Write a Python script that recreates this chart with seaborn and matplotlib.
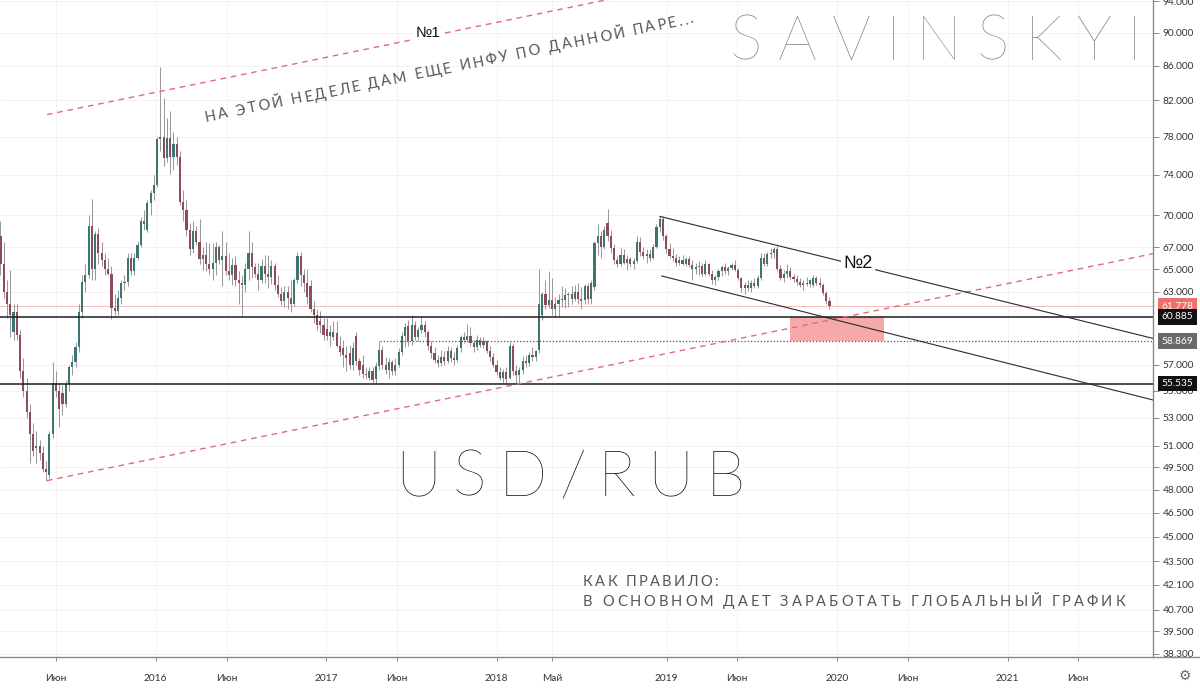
#!/usr/bin/env python3

import matplotlib

matplotlib.use("Agg")
import matplotlib.dates as mdates
import matplotlib.pyplot as plt
import numpy as np
import pandas as pd
import seaborn as sns
from matplotlib.font_manager import FontProperties
from matplotlib.textpath import TextToPath
from matplotlib.ticker import FixedLocator, FuncFormatter, NullFormatter, NullLocator

# weekly USD/RUB candles, first bar = week of 2015-02-02
first_week = "2015-02-02"
opens = [
    # 2015
    68.0, 65.5, 63.0, 62.0, 59.6, 61.3, 59.4, 56.5, 55.0, 53.4, 51.8, 50.8, 51.0, 50.5, 49.4, 49.0,
    51.8, 55.6, 55.0, 54.8, 54.0, 55.5, 56.8, 57.2, 58.4, 61.3, 63.9, 64.5, 69.0, 65.0, 68.2, 66.5,
    65.8, 65.0, 64.6, 61.6, 61.4, 62.5, 63.8, 63.9, 66.0, 64.8, 66.0, 67.2, 69.5, 68.6, 71.2, 72.2,
    # 2016
    73.0, 77.7, 78.0, 75.7, 77.9, 75.8, 77.2, 75.8, 71.3, 70.5, 68.6, 66.8, 68.5, 67.5, 65.9, 66.3,
    65.5, 65.0, 65.6, 67.0, 65.8, 66.2, 64.8, 64.5, 65.4, 64.0, 63.8, 63.6, 65.0, 66.5, 65.2, 64.6,
    64.0, 65.3, 64.6, 64.3, 65.3, 63.6, 62.8, 62.2, 63.0, 62.5, 62.0, 64.0, 66.2, 64.5, 63.8, 63.5,
    61.5, 61.0, 60.5, 60.2,
    # 2017
    59.9, 59.3, 59.6, 59.5, 58.5, 58.3, 57.8, 57.9, 57.0, 59.3, 57.3, 57.0, 56.3, 56.0, 56.5, 55.9,
    56.9, 58.2, 57.0, 56.6, 57.2, 56.5, 57.0, 58.0, 59.3, 60.1, 58.9, 60.2, 59.2, 59.8, 60.2, 59.6,
    58.5, 57.9, 57.4, 57.1, 57.6, 57.3, 58.1, 57.5, 57.4, 58.3, 59.2, 59.0, 59.3, 58.7, 58.4, 59.0,
    58.6, 58.9, 58.1, 57.6,
    # 2018
    57.0, 56.4, 56.0, 56.4, 56.0, 58.5, 56.5, 56.2, 56.6, 57.3, 57.1, 57.8, 57.6, 58.2, 61.0, 62.8,
    61.9, 62.3, 61.5, 62.0, 62.3, 62.3, 62.7, 62.8, 62.4, 63.0, 62.4, 62.3, 63.5, 62.4, 63.4, 67.4,
    68.0, 67.0, 69.3, 68.0, 66.9, 65.8, 65.5, 66.3, 65.6, 65.9, 65.5, 65.7, 67.5, 66.6, 66.2, 66.4,
    66.0, 67.0, 68.9, 69.6, 68.0,
    # 2019
    66.8, 66.2, 66.0, 65.6, 65.8, 65.5, 65.9, 65.4, 65.0, 65.2, 65.3, 64.6, 65.5, 64.6, 64.0, 64.3,
    64.8, 65.2, 64.8, 65.1, 65.4, 64.9, 64.2, 63.3, 63.6, 63.3, 63.8, 63.5, 64.2, 66.0, 65.5, 66.4,
    66.5, 66.8, 65.0, 64.2, 64.6, 64.8, 64.3, 64.1, 63.9, 63.6, 63.8, 63.7, 63.6, 64.2, 63.8, 63.6,
    62.9, 62.2,
]
highs = [
    # 2015
    69.5, 67.5, 64.0, 64.9, 62.0, 62.0, 59.8, 57.5, 56.0, 54.0, 52.6, 52.0, 51.4, 51.0, 49.9, 52.0,
    57.2, 56.5, 55.6, 55.4, 55.8, 57.0, 57.8, 58.8, 62.0, 64.5, 65.5, 70.0, 71.6, 68.5, 68.8, 67.5,
    66.5, 66.0, 65.3, 62.8, 63.2, 64.0, 64.5, 66.5, 66.5, 66.5, 67.6, 69.8, 70.5, 71.5, 72.5, 74.0,
    # 2016
    78.0, 85.8, 82.3, 80.0, 80.8, 78.5, 78.0, 76.5, 72.5, 71.5, 69.3, 69.5, 69.0, 69.6, 67.0, 67.5,
    67.4, 67.4, 67.5, 67.2, 68.5, 67.5, 66.5, 66.0, 66.2, 64.8, 64.5, 65.6, 68.5, 67.5, 65.6, 65.6,
    65.9, 66.3, 66.3, 65.8, 65.6, 64.5, 63.4, 63.5, 63.5, 64.0, 64.2, 66.6, 66.6, 65.0, 65.0, 64.0,
    62.2, 61.5, 61.4, 60.8,
    # 2017
    60.8, 60.2, 60.5, 60.5, 59.3, 59.0, 58.5, 58.6, 58.8, 59.6, 57.5, 57.8, 56.8, 56.8, 56.8, 57.2,
    58.9, 58.5, 57.6, 57.5, 57.4, 57.5, 58.3, 59.6, 60.4, 60.6, 61.0, 60.5, 60.0, 60.9, 60.5, 59.8,
    58.9, 58.4, 57.8, 58.2, 58.1, 58.5, 58.4, 58.0, 58.6, 59.4, 59.6, 60.3, 60.0, 59.0, 59.4, 59.2,
    59.2, 59.0, 58.5, 57.9,
    # 2018
    57.4, 56.8, 56.7, 56.8, 58.8, 58.7, 57.0, 56.8, 57.7, 57.8, 58.0, 58.4, 58.2, 65.0, 63.0, 64.0,
    64.8, 64.2, 62.6, 62.8, 63.5, 63.3, 63.0, 63.5, 63.6, 63.8, 63.4, 63.7, 63.8, 64.0, 67.6, 69.2,
    68.5, 69.0, 70.6, 68.6, 67.3, 66.2, 66.9, 66.8, 66.3, 66.1, 66.0, 68.0, 67.9, 67.0, 66.8, 66.8,
    67.3, 69.2, 69.9, 69.9, 68.2,
    # 2019
    67.4, 66.9, 66.4, 66.2, 66.3, 66.1, 66.2, 65.8, 65.6, 65.7, 65.6, 65.8, 65.6, 64.9, 64.5, 65.0,
    65.4, 65.6, 65.3, 65.6, 65.8, 65.1, 64.3, 63.9, 64.0, 64.0, 64.2, 64.5, 66.5, 66.5, 66.6, 66.9,
    67.0, 67.1, 65.4, 64.9, 65.5, 65.2, 64.6, 64.5, 64.2, 64.0, 64.3, 64.1, 64.5, 64.4, 64.2, 63.8,
    63.1, 62.6,
]
lows = [
    # 2015
    64.5, 62.5, 60.8, 59.2, 59.0, 59.0, 56.0, 54.5, 53.0, 49.8, 50.3, 49.8, 50.0, 49.2, 48.6, 48.8,
    51.5, 54.5, 52.3, 53.2, 53.8, 55.0, 56.2, 56.8, 58.0, 60.8, 63.0, 64.2, 64.0, 64.0, 65.5, 65.3,
    64.5, 64.5, 60.7, 61.0, 61.0, 62.0, 63.2, 63.5, 64.5, 64.5, 65.8, 67.0, 68.6, 68.4, 70.0, 71.5,
    # 2016
    72.8, 76.5, 74.9, 75.3, 74.1, 74.5, 75.0, 71.0, 69.5, 68.0, 66.3, 66.5, 67.2, 65.5, 64.9, 64.8,
    64.6, 64.0, 64.5, 65.5, 63.5, 64.5, 64.0, 63.6, 63.5, 62.0, 61.0, 63.0, 64.0, 64.2, 64.3, 63.2,
    63.8, 63.8, 63.3, 63.7, 63.2, 62.6, 61.9, 61.7, 61.5, 61.3, 61.8, 63.8, 63.5, 63.0, 62.0, 61.3,
    60.4, 59.8, 59.5, 59.0,
    # 2017
    59.0, 58.5, 59.0, 58.4, 57.7, 56.8, 56.5, 56.7, 56.6, 57.0, 56.2, 56.0, 55.9, 55.8, 55.6, 55.6,
    56.6, 56.7, 56.3, 56.0, 56.2, 56.2, 56.8, 57.8, 58.4, 58.5, 58.6, 59.0, 58.9, 59.5, 59.2, 58.2,
    57.5, 57.1, 56.8, 56.9, 57.0, 57.1, 57.2, 57.0, 57.2, 58.0, 58.7, 58.8, 58.5, 58.0, 58.2, 58.4,
    58.3, 57.9, 57.3, 56.8,
    # 2018
    56.2, 55.8, 55.6, 55.6, 55.9, 56.2, 55.6, 55.5, 56.3, 56.8, 56.9, 57.3, 57.3, 57.9, 60.6, 61.5,
    61.6, 61.0, 60.9, 60.9, 61.7, 61.6, 61.7, 62.0, 62.2, 62.0, 61.5, 62.0, 62.0, 62.0, 63.2, 66.3,
    66.0, 66.8, 67.6, 66.5, 65.5, 65.2, 65.3, 65.5, 64.9, 65.2, 65.0, 65.6, 66.2, 65.9, 65.6, 65.7,
    65.9, 66.9, 68.4, 67.7, 66.5,
    # 2019
    66.0, 65.7, 65.3, 65.4, 65.4, 65.3, 65.2, 64.0, 64.6, 64.5, 64.4, 64.5, 64.4, 63.7, 63.6, 64.0,
    64.4, 64.6, 64.5, 64.9, 64.8, 64.0, 63.0, 62.8, 63.1, 63.0, 63.3, 63.3, 64.0, 65.3, 65.3, 66.0,
    66.0, 64.8, 64.0, 63.9, 64.2, 64.1, 63.9, 63.6, 63.4, 63.2, 63.5, 63.4, 63.4, 63.6, 63.4, 62.7,
    62.0, 61.5,
]
closes = [
    # 2015
    65.5, 63.0, 62.0, 61.0, 61.3, 59.4, 56.5, 55.0, 53.4, 51.8, 50.6, 51.0, 50.5, 49.4, 49.2, 51.8,
    55.6, 55.0, 53.6, 54.0, 55.5, 56.8, 57.2, 58.4, 61.3, 63.9, 64.5, 69.0, 65.0, 68.2, 66.5, 65.8,
    65.0, 64.6, 61.6, 61.4, 62.5, 63.8, 63.9, 66.0, 64.8, 66.0, 67.2, 69.5, 69.2, 71.2, 72.2, 73.0,
    # 2016
    77.7, 78.0, 75.7, 77.9, 75.8, 77.2, 75.8, 71.3, 70.5, 68.6, 66.8, 68.5, 67.5, 65.9, 66.3, 65.5,
    65.0, 65.6, 67.0, 65.8, 66.2, 64.8, 64.5, 65.4, 64.0, 63.8, 63.6, 65.0, 66.5, 65.2, 64.6, 64.0,
    65.3, 64.6, 64.3, 65.3, 63.6, 62.8, 62.2, 63.0, 62.5, 62.0, 64.0, 66.2, 64.5, 63.8, 62.6, 61.5,
    61.0, 60.2, 60.2, 59.4,
    # 2017
    59.3, 59.6, 59.2, 58.5, 58.0, 57.8, 57.5, 57.0, 58.3, 57.3, 56.6, 56.3, 56.2, 56.5, 55.8, 56.9,
    58.2, 57.0, 56.6, 57.2, 56.5, 57.0, 58.0, 59.3, 60.0, 58.9, 60.2, 59.2, 59.8, 60.2, 59.6, 58.5,
    57.9, 57.4, 57.1, 57.6, 57.3, 58.1, 57.5, 57.4, 58.3, 59.2, 59.0, 59.3, 58.7, 58.4, 59.0, 58.6,
    58.9, 58.1, 57.6, 57.0,
    # 2018
    56.4, 56.0, 56.4, 55.9, 58.5, 56.5, 56.2, 56.6, 57.3, 57.1, 57.8, 57.6, 58.1, 62.0, 62.8, 61.9,
    62.3, 61.5, 62.0, 62.3, 62.3, 62.7, 62.8, 62.4, 63.0, 62.4, 62.2, 63.5, 62.4, 63.8, 67.4, 68.0,
    67.0, 68.6, 68.0, 66.9, 65.8, 65.5, 66.3, 65.6, 65.9, 65.5, 65.7, 67.5, 66.6, 66.2, 66.4, 66.0,
    67.0, 68.9, 69.6, 68.0, 66.8,
    # 2019
    66.2, 66.0, 65.6, 65.8, 65.5, 65.9, 65.4, 65.0, 65.2, 65.3, 64.6, 65.5, 64.6, 64.0, 64.3, 64.8,
    65.2, 64.8, 65.1, 65.4, 64.9, 64.2, 63.3, 63.6, 63.3, 63.8, 63.5, 64.2, 66.0, 65.5, 66.4, 66.5,
    66.8, 65.0, 64.2, 64.6, 64.8, 64.3, 64.1, 63.9, 63.6, 63.8, 63.7, 64.0, 64.2, 63.8, 63.6, 62.9,
    62.2, 61.8,
]

# drawn levels and trend lines
support_levels = [60.885, 55.535]
mid_level = 58.869
mid_level_start = "2017-04-26"
last_price = 61.778
red_line_dates = ["2015-05-13", "2021-11-09"]
red_line_lower = [48.6, 66.4]
red_line_upper = [80.4, 109.85]
channel_upper_dates = ["2018-12-17", "2021-11-09"]
channel_upper = [69.9, 59.1]
channel_lower_dates = ["2018-12-21", "2021-11-09"]
channel_lower = [64.4, 54.3]
zone_dates = ["2019-09-22", "2020-04-11"]
zone_prices = [58.869, 60.885]

price_ticks = [38.3, 39.5, 40.7, 42.1, 43.5, 45.0, 46.5, 48.0, 49.5, 51.0, 53.0, 55.0,
               57.0, 63.0, 65.0, 67.0, 70.0, 74.0, 78.0, 82.0, 86.0, 90.0, 94.0]
date_ticks = ["2015-06-01", "2016-01-01", "2016-06-01", "2017-01-01", "2017-06-01", "2018-01-01",
              "2018-05-01", "2019-01-01", "2019-06-01", "2020-01-01", "2020-06-01", "2021-01-01",
              "2021-06-01"]
date_labels = ["Июн", "2016", "Июн", "2017", "Июн", "2018", "Май", "2019", "Июн", "2020", "Июн",
               "2021", "Июн"]

df = pd.DataFrame({"open": opens, "high": highs, "low": lows, "close": closes})
df["date"] = pd.date_range(first_week, periods=len(df), freq="7D")
df["x"] = mdates.date2num(df["date"])
df["up"] = df["close"] >= df["open"]
df["body_low"] = df[["open", "close"]].min(axis=1)
df["body_h"] = (df["close"] - df["open"]).abs().clip(lower=0.08)

UP, DOWN, WICK = "#3b7672", "#8b4d59", "#9a9a9a"

sns.set_theme(style="white")
plt.rcParams["font.family"] = ["Lato", "DejaVu Sans"]

W, H = 1200, 688
fig = plt.figure(figsize=(12, 6.88), dpi=100)
ax = fig.add_axes([0, 31 / H, 1153 / W, 657 / H])

ax.vlines(df["x"], df["low"], df["high"], color=WICK, lw=0.75, zorder=3)
ax.bar(df["x"], df["body_h"], bottom=df["body_low"], width=4.6,
       color=np.where(df["up"], UP, DOWN), edgecolor="none", zorder=4)

ax.set_yscale("log")
ax.set_ylim(38.13, 94.13)
ax.set_xlim(mdates.datestr2num("2015-02-01"), mdates.datestr2num("2021-11-09"))

to_num = lambda ds: mdates.datestr2num(ds)

# levels
for lvl in support_levels:
    ax.axhline(lvl, color="#1c1c1c", lw=1.1, zorder=5)
ax.axhline(last_price, color="#f3bcbc", lw=0.7, zorder=2)
ax.hlines(mid_level, to_num(mid_level_start), ax.get_xlim()[1], color="#555555",
          lw=0.9, linestyles=(0, (1, 1.6)), zorder=5)
zx = to_num(zone_dates)
ax.fill_between(zx, zone_prices[0], zone_prices[1], color="#f59a9a", alpha=0.85,
                lw=0, zorder=4)

# trend lines
rx = to_num(red_line_dates)
ax.plot(rx, red_line_lower, color="#e06a78", lw=1.0, ls=(0, (4, 3.5)), zorder=5)
ax.plot(rx, red_line_upper, color="#e06a78", lw=1.0, ls=(0, (4, 3.5)), zorder=5)
ax.plot(to_num(channel_upper_dates), channel_upper, color="#2a2a2a", lw=0.8, zorder=5)
ax.plot(to_num(channel_lower_dates), channel_lower, color="#2a2a2a", lw=0.8, zorder=5)

# grid and axes
ax.grid(True, color="#f1f1f1", lw=0.6, zorder=0)
ax.set_axisbelow(True)
ax.yaxis.set_major_locator(FixedLocator(price_ticks))
ax.yaxis.set_major_formatter(FuncFormatter(lambda v, _: f"{v:.3f}"))
ax.yaxis.set_minor_locator(NullLocator())
ax.yaxis.set_minor_formatter(NullFormatter())
ax.yaxis.tick_right()
ax.tick_params(axis="y", which="major", direction="out", length=4, width=0.6, color="#777777",
               labelsize=7.3, labelcolor="#333333", pad=3, right=True, left=False)
ax.set_xticks(to_num(date_ticks))
ax.set_xticklabels(date_labels)
ax.tick_params(axis="x", direction="out", length=3, width=0.6, color="#777777",
               labelsize=7.3, labelcolor="#333333", pad=9, bottom=True)
for side in ["top", "left"]:
    ax.spines[side].set_visible(False)
for side in ["right", "bottom"]:
    ax.spines[side].set_color("#8a8a8a")
    ax.spines[side].set_linewidth(1.0)
fig.add_artist(plt.Line2D([1153 / W, 1], [31 / H, 31 / H], color="#8a8a8a", lw=1.0))

# price tags on the scale
tags = [(last_price, "#ef6f6c"), (support_levels[0], "#111111"),
        (mid_level, "#6a6a6a"), (support_levels[1], "#111111")]
for price, bg in tags:
    ax.text(1.0075, price, f"{price:.3f}", transform=ax.get_yaxis_transform(), ha="left",
            va="center", fontsize=7.3, color="white", clip_on=False, zorder=10,
            bbox=dict(boxstyle="square,pad=0.32", fc=bg, ec="none"))

fig.text(1185 / W, 1 - 676 / H, "⚙", fontsize=10, color="#666666", ha="center", va="center",
         family="DejaVu Sans")

# labels on the lines
lab = dict(fontsize=11, color="#111111", ha="center", va="center",
           family=["Liberation Sans", "DejaVu Sans"], zorder=8)
fig.text(428 / W, 1 - 33 / H, "№1", bbox=dict(fc="white", ec="none", pad=1.5), **lab)
lab["fontsize"] = 13
fig.text(858 / W, 1 - 263 / H, "№2", bbox=dict(fc="white", ec="none", pad=2), **lab)

ttp = TextToPath()


def char_width(ch, prop):
    w2 = ttp.get_text_width_height_descent("HH", prop, ismath=False)[0]
    w3 = ttp.get_text_width_height_descent("H" + ch + "H", prop, ismath=False)[0]
    return (w3 - w2) * 100 / 72


def tracked(x0, y0, s, width, size, color, weight="normal", angle=0.0):
    prop = FontProperties(family=["Lato", "DejaVu Sans"], weight=weight, size=size)
    widths = [char_width(c, prop) for c in s]
    gap = (width - sum(widths)) / (len(s) - 1)
    ca, sa = np.cos(np.radians(angle)), np.sin(np.radians(angle))
    pos = 0.0
    for c, w in zip(s, widths):
        fig.text((x0 + pos * ca) / W, 1 - (y0 - pos * sa) / H, c, fontproperties=prop,
                 color=color, rotation=angle, rotation_mode="anchor", ha="left",
                 va="baseline", zorder=9)
        pos += w + gap


tracked(730, 60, "SAVINSKYI", 412, 44, "#808080", weight="light")
tracked(395, 496, "USD/RUB", 350, 46, "#0d0d0d", weight="light")
tracked(583, 586, "КАК ПРАВИЛО:", 135, 10.5, "#555555")
tracked(583, 606, "В ОСНОВНОМ ДАЕТ ЗАРАБОТАТЬ ГЛОБАЛЬНЫЙ ГРАФИК", 542, 10.5, "#555555")
tracked(206, 122, "НА ЭТОЙ НЕДЕЛЕ ДАМ ЕЩЕ ИНФУ ПО ДАННОЙ ПАРЕ...", 498, 10.5, "#555555",
        angle=11.5)

fig.savefig("out.png", dpi=100)
